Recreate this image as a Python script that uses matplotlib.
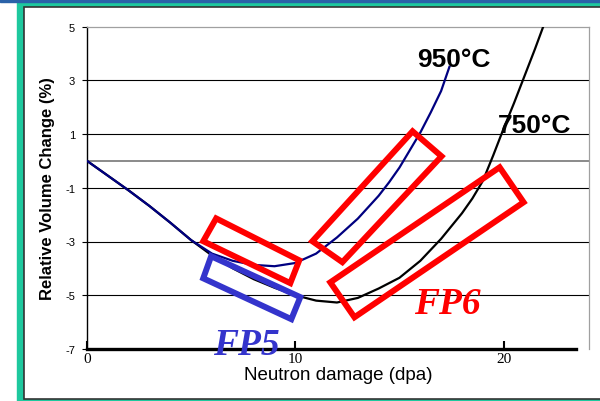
import matplotlib
matplotlib.use('Agg')
import matplotlib.pyplot as plt
from matplotlib.patches import Rectangle, Polygon

# curve data (dpa, % volume change)
dpa_950 = [0, 1, 2, 3, 4, 5, 6, 7, 8, 9, 10, 11, 12, 13, 14, 14.5, 15,
           15.5, 16, 16.5, 17, 17.4]
vol_950 = [0, -0.55, -1.1, -1.68, -2.3, -2.95, -3.45, -3.72, -3.87, -3.92,
           -3.8, -3.45, -2.85, -2.15, -1.3, -0.8, -0.25, 0.4, 1.05,
           1.8, 2.6, 3.5]

dpa_750 = [0, 1, 2, 3, 4, 5, 6, 7, 8, 9, 10, 11, 12, 13, 14, 15, 16, 17,
           18, 18.5, 19, 19.5, 20, 20.5, 21, 21.5, 22]
vol_750 = [0, -0.55, -1.1, -1.68, -2.3, -2.95, -3.52, -4.0, -4.4, -4.72,
           -5.0, -5.2, -5.27, -5.1, -4.75, -4.35, -3.72, -2.9, -1.95,
           -1.4, -0.75, 0.2, 1.2, 2.15, 3.15, 4.15, 5.2]

# annotation boxes (corners in data units)
box_fp5 = [(5.96, -3.55), (5.58, -4.37), (9.81, -5.89), (10.24, -5.07)]
box_red_a = [(6.20, -2.14), (5.58, -2.99), (9.76, -4.55), (10.19, -3.70)]
box_red_b = [(15.63, 1.10), (17.02, 0.17), (12.26, -3.77), (10.82, -2.99)]
box_red_c = [(19.81, -0.24), (20.96, -1.54), (12.84, -5.82), (11.68, -4.52)]

yticks = [5, 3, 1, -1, -3, -5, -7]
xticks = [0, 10, 20]

W, H = 600, 402
fig = plt.figure(figsize=(6, 4.02), dpi=100)


def frac(x, y, w, h):
    # pixel box (top-left origin) -> figure fraction
    return (x / W, 1 - (y + h) / H), w / W, h / H


# slide frame behind the chart
xy, w, h = frac(17, 2.5, 583, 399.5)
fig.patches.append(Rectangle(xy, w, h, transform=fig.transFigure, color='#1ec89e', zorder=-3))
xy, w, h = frac(0, 0, 600, 2.5)
fig.patches.append(Rectangle(xy, w, h, transform=fig.transFigure, color='#2a62a8', zorder=-2))
xy, w, h = frac(23.5, 8, 590, 392)
fig.patches.append(Rectangle(xy, w, h, transform=fig.transFigure, facecolor='white',
                             edgecolor='#333333', lw=1.2, zorder=-1))

ax = fig.add_axes([87 / W, 1 - 350 / H, (589 - 87) / W, (350 - 27.5) / H])
ax.set_facecolor('none')
ax.set_xlim(0, 24.1)
ax.set_ylim(-7, 5)

# gridlines
for v in [3, 1, -1, -3, -5]:
    ax.axhline(v, color='black', lw=0.8, zorder=1)
ax.axhline(0, color='#8a8a8a', lw=1.4, zorder=1)

ax.plot(dpa_750, vol_750, color='black', lw=1.6, zorder=3)
ax.plot(dpa_950, vol_950, color='#000080', lw=1.6, zorder=4)

for corners, col in [(box_fp5, '#3434cc'), (box_red_a, '#ff0000'),
                     (box_red_b, '#ff0000'), (box_red_c, '#ff0000')]:
    ax.add_patch(Polygon(corners, closed=True, fill=False, edgecolor=col,
                         lw=4.3, joinstyle='miter', zorder=5))

# spines
for s in ['top', 'right']:
    ax.spines[s].set_color('#a0a0a0')
    ax.spines[s].set_linewidth(0.9)
ax.spines['left'].set_color('black')
ax.spines['left'].set_linewidth(1.0)
ax.spines['bottom'].set_bounds(0, 23.46)
ax.spines['bottom'].set_linewidth(2.4)
ax.spines['bottom'].set_zorder(6)

ax.set_yticks(yticks)
ax.set_yticklabels([str(t) for t in yticks], family='Liberation Sans', fontsize=8)
ax.tick_params(axis='y', direction='out', length=3.5, width=0.8, pad=5)
ax.set_xticks(xticks)
ax.set_xticklabels([str(t) for t in xticks], family='Liberation Serif', fontsize=11)
ax.tick_params(axis='x', direction='in', length=6, width=1.5, pad=2)

ax.set_ylabel('Relative Volume Change (%)', family='Liberation Sans',
              fontsize=12, fontweight='bold', labelpad=7)
ax.set_xlabel('Neutron damage (dpa)', family='Liberation Sans', fontsize=13.5,
              labelpad=1)

ax.text(17.6, 3.8, '950°C', family='Liberation Sans', fontsize=19,
        fontweight='bold', ha='center', va='center', zorder=7)
ax.text(21.5, 1.35, '750°C', family='Liberation Sans', fontsize=19,
        fontweight='bold', ha='center', va='center', zorder=7)
ax.text(7.65, -6.85, 'FP5', family='Liberation Serif', fontsize=27,
        fontweight='bold', style='italic', color='#3434cc', ha='center',
        va='center', zorder=8, clip_on=False)
ax.text(17.3, -5.32, 'FP6', family='Liberation Serif', fontsize=27,
        fontweight='bold', style='italic', color='#ff0000', ha='center',
        va='center', zorder=8)

fig.savefig('out.png', dpi=100)
